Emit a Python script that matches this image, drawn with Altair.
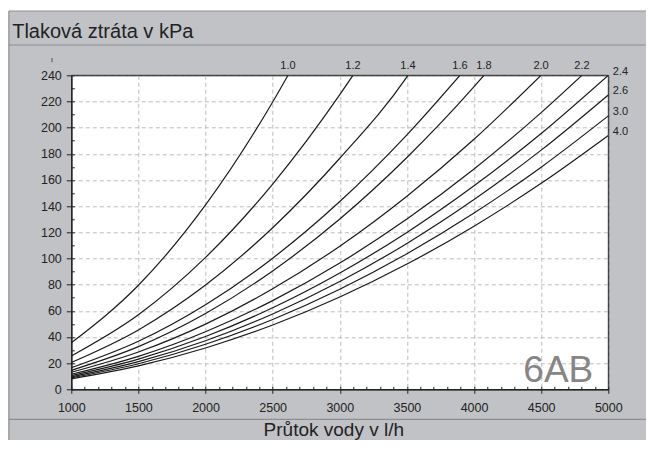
import altair as alt
import pandas as pd

# ---- data (flow in l/h, pressure loss in kPa) ----
flow_10 = [1000, 1500, 2000, 2500, 2614]
kpa_10 = [35.5, 79.5, 140.9, 219.6, 240]
flow_12 = [1000, 1500, 2000, 2500, 3000, 3098]
kpa_12 = [25.5, 57.0, 100.8, 156.9, 225.2, 240]
flow_14 = [1000, 1500, 2000, 2500, 3000, 3500, 3508]
kpa_14 = [20.5, 45.4, 79.7, 123.5, 176.6, 238.8, 240]
flow_16 = [1000, 1500, 2000, 2500, 3000, 3500, 3895]
kpa_16 = [16.5, 36.7, 64.6, 100.2, 143.5, 194.5, 240]
flow_18 = [1000, 1500, 2000, 2500, 3000, 3500, 4000, 4074]
kpa_18 = [14.5, 32.6, 57.9, 90.5, 130.2, 177.2, 231.3, 240]
flow_20 = [1000, 1500, 2000, 2500, 3000, 3500, 4000, 4499]
kpa_20 = [13.0, 28.5, 49.8, 76.8, 109.4, 147.6, 191.1, 240]
flow_22 = [1000, 1500, 2000, 2500, 3000, 3500, 4000, 4500, 4804]
kpa_22 = [11.5, 25.2, 44.0, 67.8, 96.5, 130.1, 168.4, 211.5, 240]
flow_full = [1000, 1500, 2000, 2500, 3000, 3500, 4000, 4500, 5000]
kpa_24 = [10.5, 23.1, 40.4, 62.3, 88.9, 119.9, 155.5, 195.5, 240]
kpa_26 = [9.5, 21.1, 37.1, 57.6, 82.4, 111.5, 145.0, 182.8, 225]
kpa_30 = [8.8, 19.5, 34.4, 53.4, 76.5, 103.6, 134.7, 169.8, 209]
kpa_40 = [8.0, 17.9, 31.6, 49.1, 70.5, 95.7, 124.7, 157.4, 194]

top_names = ["1.0", "1.2", "1.4", "1.6", "1.8", "2.0", "2.2"]
top_flow = [2614, 3098, 3508, 3895, 4074, 4499, 4804]
right_names = ["2.4", "2.6", "3.0", "4.0"]
right_kpa = [240, 225, 209, 194]

x_major = [1000, 1500, 2000, 2500, 3000, 3500, 4000, 4500, 5000]
x_minor = list(range(1000, 5001, 100))
y_major = list(range(0, 241, 20))
y_minor = list(range(0, 241, 10))

series = [
    ("1.0", flow_10, kpa_10), ("1.2", flow_12, kpa_12), ("1.4", flow_14, kpa_14),
    ("1.6", flow_16, kpa_16), ("1.8", flow_18, kpa_18), ("2.0", flow_20, kpa_20),
    ("2.2", flow_22, kpa_22), ("2.4", flow_full, kpa_24), ("2.6", flow_full, kpa_26),
    ("3.0", flow_full, kpa_30), ("4.0", flow_full, kpa_40),
]
rows = []
for name, fl, kp in series:
    for f, k in zip(fl, kp):
        rows.append({"curve": name, "Q": f, "kPa": k})
df = pd.DataFrame(rows)
top_df = pd.DataFrame({"name": top_names, "Q": top_flow, "kPa": [240] * len(top_names)})
right_df = pd.DataFrame({"name": right_names, "Q": [5000] * len(right_names), "kPa": right_kpa})
mark_df = pd.DataFrame({"name": ["6AB"], "Q": [4888], "kPa": [5.8]})

FONT = "Liberation Sans"
BG = "#c1c2c6"
LINEC = "#8d8e92"
DARK = "#222222"

xscale = alt.Scale(domain=[1000, 5000], nice=False, zero=False)
yscale = alt.Scale(domain=[0, 240], nice=False)

x_main = alt.Axis(orient="bottom", values=x_major, format="d", grid=True,
                  gridDash=[4, 3], gridColor="#bdbdbd", gridWidth=1,
                  domainColor=DARK, domainWidth=1.5, tickColor=DARK,
                  tickSize=4, tickWidth=1, labelFont=FONT, labelFontSize=12.5,
                  labelColor=DARK, labelPadding=8, labelFlush=False,
                  labelOverlap=False,
                  title="Průtok vody v l/h", titleFont=FONT, titleFontSize=19,
                  titleFontWeight="normal", titleColor=DARK,
                  titleX=262, titleY=46.5, titleAlign="center",
                  titleBaseline="alphabetic", titleAnchor="middle")
y_main = alt.Axis(orient="left", values=y_major, format="d", grid=True,
                  gridDash=[4, 3], gridColor="#bdbdbd", gridWidth=1,
                  domainColor=DARK, domainWidth=1.5, tickColor=DARK,
                  tickSize=5, tickWidth=1, labelFont=FONT, labelFontSize=12.5,
                  labelColor=DARK, labelPadding=5, labelFlush=False,
                  labelOverlap=False,
                  title="Tlaková ztráta v kPa", titleFont=FONT, titleFontSize=20,
                  titleFontWeight="normal", titleColor=DARK, titleAngle=0,
                  titleX=-59.6, titleY=-37.5, titleAlign="left",
                  titleBaseline="alphabetic")
x_min_axis = alt.Axis(orient="bottom", values=x_minor, offset=-3, tickSize=3,
                      tickColor=DARK, tickWidth=1, labels=False,
                      domain=False, grid=False, title=None)
y_min_axis = alt.Axis(orient="left", values=y_minor, offset=-3, tickSize=3,
                      tickColor=DARK, tickWidth=1, labels=False,
                      domain=False, grid=False, title=None)

lines = alt.Chart(df).mark_line(color="#1a1a1a", strokeWidth=1.2,
                                interpolate="monotone", clip=True).encode(
    x=alt.X("Q:Q", scale=xscale, axis=x_main),
    y=alt.Y("kPa:Q", scale=yscale, axis=y_main),
    detail="curve:N",
)

top_labels = alt.Chart(top_df).mark_text(font=FONT, fontSize=11, color=DARK,
                                         align="center", baseline="middle", dy=-9).encode(
    x=alt.X("Q:Q", scale=xscale, axis=None),
    y=alt.Y("kPa:Q", scale=yscale, axis=None),
    text="name:N",
)
right_labels = alt.Chart(right_df).mark_text(font=FONT, fontSize=11, color=DARK,
                                             align="left", baseline="middle",
                                             dx=4.5, dy=-3.5).encode(
    x=alt.X("Q:Q", scale=xscale, axis=None),
    y=alt.Y("kPa:Q", scale=yscale, axis=None),
    text="name:N",
)
model_mark = alt.Chart(mark_df).mark_text(font=FONT, fontSize=37, color="#868686",
                                          align="right", baseline="alphabetic").encode(
    x=alt.X("Q:Q", scale=xscale, axis=x_min_axis),
    y=alt.Y("kPa:Q", scale=yscale, axis=y_min_axis),
    text="name:N",
)

one = alt.Data(values=[{"a": 1}])
top_white = alt.Chart(one).mark_rect(color="white").encode(
    x=alt.value(-64), x2=alt.value(600), y=alt.value(-68), y2=alt.value(-64.3))
top_border = alt.Chart(one).mark_rule(color=LINEC, strokeWidth=1).encode(
    x=alt.value(-62.3), x2=alt.value(600), y=alt.value(-64.3))
left_border = alt.Chart(one).mark_rule(color=LINEC, strokeWidth=1).encode(
    x=alt.value(-62.3), y=alt.value(-64.3), y2=alt.value(400))
title_line = alt.Chart(one).mark_rule(color=LINEC, strokeWidth=1.2).encode(
    x=alt.value(-62.3), x2=alt.value(600), y=alt.value(-30.3))
bottom_line = alt.Chart(one).mark_rule(color=LINEC, strokeWidth=1.2).encode(
    x=alt.value(-62.3), x2=alt.value(600), y=alt.value(344))
unit_tick = alt.Chart(one).mark_rule(color="#555555", strokeWidth=1).encode(
    x=alt.value(-19.3), y=alt.value(-17.3), y2=alt.value(-13))
# solid plot frame on top and right (drawn above the dashed grid)
frame_top = alt.Chart(one).mark_rule(color="#333333", strokeWidth=1).encode(
    x=alt.value(0), x2=alt.value(537), y=alt.value(0))
frame_right = alt.Chart(one).mark_rule(color="#333333", strokeWidth=1).encode(
    x=alt.value(537), y=alt.value(0), y2=alt.value(314))

chart = alt.layer(
    top_white, top_border, left_border, title_line, bottom_line, unit_tick,
    lines, frame_top, frame_right, top_labels, right_labels, model_mark,
).resolve_axis(x="independent", y="independent").properties(
    width=537, height=314,
    background=BG,
    padding={"left": 63.3, "top": 67.3, "right": 37.7, "bottom": 50.2},
    autosize=alt.AutoSizeParams(type="none"),
).configure_view(fill="white", stroke="#333333", strokeWidth=1)

chart.save("out.html", embed_options={"renderer": "svg", "actions": False})
